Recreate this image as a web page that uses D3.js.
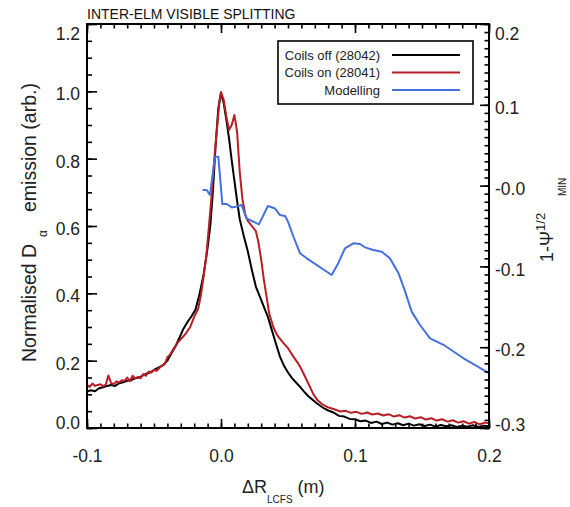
<!DOCTYPE html>
<html>
<head>
<meta charset="utf-8">
<script src="https://cdn.jsdelivr.net/npm/d3@7"></script>
<style>
  body { margin: 0; background: #fff; }
  svg { font-family: "Liberation Sans", Arial, Helvetica, sans-serif; }
</style>
</head>
<body>
<svg width="570" height="507"></svg>
<script>
// Coils off (28042): dR (m), normalised D-alpha
const offX = [-0.100,-0.097,-0.094,-0.091,-0.088,-0.085,-0.082,-0.079,-0.076,-0.073,-0.070,-0.067,-0.064,-0.061,-0.058,-0.055,-0.052,-0.049,-0.046,-0.043,-0.040,-0.037,-0.034,-0.031,-0.028,-0.025,-0.022,-0.019,-0.016,-0.013,-0.010,-0.008,-0.006,-0.004,-0.002,0.000,0.002,0.004,0.006,0.008,0.010,0.012,0.014,0.017,0.020,0.023,0.026,0.029,0.032,0.035,0.038,0.041,0.044,0.047,0.050,0.053,0.056,0.059,0.062,0.065,0.068,0.071,0.074,0.077,0.080,0.084,0.088,0.092,0.096,0.100,0.104,0.108,0.112,0.116,0.120,0.124,0.128,0.132,0.136,0.140,0.144,0.148,0.152,0.156,0.160,0.164,0.168,0.172,0.176,0.180,0.184,0.188,0.192,0.196,0.200];
const offY = [0.108,0.112,0.109,0.118,0.121,0.125,0.128,0.125,0.133,0.136,0.140,0.142,0.148,0.150,0.157,0.162,0.167,0.175,0.181,0.187,0.200,0.222,0.242,0.268,0.295,0.315,0.332,0.352,0.398,0.455,0.535,0.600,0.706,0.840,0.950,0.995,0.965,0.915,0.860,0.795,0.735,0.675,0.620,0.570,0.525,0.470,0.420,0.390,0.360,0.330,0.290,0.250,0.212,0.185,0.165,0.148,0.135,0.122,0.108,0.095,0.085,0.075,0.066,0.058,0.052,0.046,0.036,0.034,0.027,0.026,0.020,0.022,0.015,0.019,0.012,0.016,0.010,0.014,0.008,0.013,0.007,0.011,0.006,0.010,0.004,0.009,0.005,0.008,0.003,0.007,0.004,0.008,0.003,0.007,0.005];

// Coils on (28041)
const onX = [-0.100,-0.098,-0.096,-0.094,-0.092,-0.090,-0.088,-0.086,-0.084,-0.082,-0.080,-0.078,-0.076,-0.074,-0.072,-0.070,-0.068,-0.066,-0.064,-0.062,-0.060,-0.058,-0.056,-0.054,-0.052,-0.050,-0.048,-0.046,-0.044,-0.042,-0.040,-0.038,-0.035,-0.032,-0.029,-0.026,-0.023,-0.020,-0.017,-0.015,-0.013,-0.011,-0.009,-0.007,-0.005,-0.003,-0.001,0.000,0.002,0.004,0.006,0.008,0.010,0.012,0.014,0.016,0.018,0.020,0.023,0.026,0.028,0.030,0.032,0.034,0.036,0.039,0.042,0.046,0.050,0.054,0.057,0.060,0.063,0.066,0.069,0.072,0.075,0.078,0.081,0.085,0.089,0.093,0.097,0.101,0.105,0.109,0.113,0.117,0.121,0.125,0.129,0.133,0.137,0.141,0.145,0.149,0.153,0.157,0.161,0.165,0.169,0.173,0.177,0.181,0.185,0.189,0.193,0.197,0.200];
const onY = [0.128,0.122,0.132,0.125,0.128,0.130,0.124,0.129,0.156,0.133,0.131,0.138,0.135,0.142,0.140,0.150,0.139,0.155,0.147,0.152,0.148,0.160,0.155,0.168,0.165,0.172,0.170,0.178,0.186,0.190,0.210,0.218,0.238,0.255,0.268,0.282,0.300,0.330,0.355,0.395,0.450,0.510,0.600,0.690,0.800,0.890,0.975,0.998,0.975,0.925,0.885,0.900,0.930,0.880,0.760,0.680,0.635,0.615,0.600,0.585,0.550,0.500,0.440,0.390,0.340,0.300,0.275,0.255,0.237,0.212,0.195,0.175,0.150,0.125,0.100,0.083,0.072,0.065,0.060,0.055,0.049,0.051,0.045,0.048,0.042,0.046,0.040,0.043,0.037,0.041,0.034,0.038,0.031,0.035,0.028,0.032,0.025,0.029,0.022,0.026,0.019,0.023,0.016,0.020,0.013,0.018,0.011,0.016,0.014];

// Modelling, right axis 1-psi^1/2 min
const modX = [-0.0137,-0.0107,-0.0082,-0.0045,-0.0020,0.0010,0.0043,0.0080,0.0117,0.0154,0.0190,0.0283,0.0350,0.0400,0.0440,0.0478,0.0500,0.0540,0.0590,0.0640,0.0826,0.0875,0.0925,0.0988,0.1037,0.1075,0.1137,0.1200,0.1260,0.1325,0.1370,0.1423,0.1485,0.1560,0.1660,0.1810,0.2000];
const modY = [-0.0054,-0.0054,-0.0116,0.0358,0.0358,-0.0228,-0.0228,-0.0270,-0.0260,-0.0240,-0.0405,-0.0480,-0.0253,-0.0280,-0.0364,-0.0376,-0.0446,-0.0630,-0.0838,-0.0900,-0.1106,-0.0960,-0.0776,-0.0714,-0.0723,-0.0764,-0.0797,-0.0818,-0.0900,-0.1086,-0.1290,-0.1560,-0.1725,-0.1890,-0.1970,-0.2137,-0.2320];

const xMajor = [-0.1, 0.0, 0.1, 0.2];
const yMajor = [0.0, 0.2, 0.4, 0.6, 0.8, 1.0, 1.2];
const rMajor = [-0.3, -0.2, -0.1, 0.0, 0.1, 0.2];
const rLabels = ["-0.3", "-0.2", "-0.1", "-0.0", "0.1", "0.2"];

const series = [
  { name: "Coils off (28042)", xs: offX, ys: offY, color: "#000000", axis: "left" },
  { name: "Coils on (28041)", xs: onX, ys: onY, color: "#b81e24", axis: "left" },
  { name: "Modelling", xs: modX, ys: modY, color: "#4470e0", axis: "right" }
];

const svg = d3.select("svg");
const L = 87, R = 489, T = 24, B = 428;

const x = d3.scaleLinear().domain([-0.1, 0.2]).range([L, R]);
const y = d3.scaleLinear().domain([0, 1.2]).range([B, T]);
const yR = d3.scaleLinear().domain([-0.3, 0.2]).range([B, T]);

const fmt = (d) => d.toFixed(1);
const range = (a, b, s) => d3.range(Math.round((b - a) / s) + 1).map((i) => +(a + i * s).toFixed(4));

// clip
svg.append("clipPath").attr("id", "clip")
  .append("rect").attr("x", L).attr("y", T).attr("width", R - L).attr("height", B - T);

// data lines
const plot = svg.append("g").attr("clip-path", "url(#clip)");
series.forEach((s) => {
  const sc = s.axis === "left" ? y : yR;
  const line = d3.line().x((d, i) => x(s.xs[i])).y((d, i) => sc(s.ys[i]));
  plot.append("path")
    .attr("d", line(s.xs))
    .attr("fill", "none")
    .attr("stroke", s.color)
    .attr("stroke-width", 2)
    .attr("stroke-linejoin", "round");
});

// axes
function styleAxis(g) {
  g.select(".domain").remove();
  g.selectAll(".tick line").attr("stroke", "#000").attr("stroke-width", 1.6);
  g.selectAll("text").attr("fill", "#222").attr("font-size", "17.5px");
}

svg.append("g").attr("transform", `translate(0,${B})`)
  .call(d3.axisBottom(x).tickValues(range(-0.1, 0.2, 0.01)).tickSize(-4.5).tickFormat(""))
  .call(styleAxis);
svg.append("g").attr("transform", `translate(0,${B})`)
  .call(d3.axisBottom(x).tickValues(xMajor).tickSize(-9).tickPadding(22).tickFormat(fmt))
  .call(styleAxis);
svg.append("g").attr("transform", `translate(0,${T})`)
  .call(d3.axisTop(x).tickValues(range(-0.1, 0.2, 0.01)).tickSize(-4.5).tickFormat(""))
  .call(styleAxis);
svg.append("g").attr("transform", `translate(0,${T})`)
  .call(d3.axisTop(x).tickValues(xMajor).tickSize(-9).tickFormat(""))
  .call(styleAxis);

svg.append("g").attr("transform", `translate(${L},0)`)
  .call(d3.axisLeft(y).tickValues(range(0, 1.2, 0.05)).tickSize(-5).tickFormat(""))
  .call(styleAxis);
const yAx = svg.append("g").attr("transform", `translate(${L},0)`)
  .call(d3.axisLeft(y).tickValues(yMajor).tickSize(-10).tickPadding(7).tickFormat(fmt))
  .call(styleAxis);

svg.append("g").attr("transform", `translate(${R},0)`)
  .call(d3.axisRight(yR).tickValues(range(-0.3, 0.2, 0.01)).tickSize(-4.5).tickFormat(""))
  .call(styleAxis);
const rAx = svg.append("g").attr("transform", `translate(${R},0)`)
  .call(d3.axisRight(yR).tickValues(rMajor).tickSize(-9).tickPadding(6)
    .tickFormat((d, i) => rLabels[i]))
  .call(styleAxis);

// end labels sit inside the frame, like the original
yAx.selectAll(".tick text").attr("y", (d) => (d === 1.2 ? 10 : d === 0 ? -5 : 3));
rAx.selectAll(".tick text").attr("y", (d) => (d === 0.2 ? 10 : d === -0.3 ? -3 : 3));

// frame
svg.append("rect")
  .attr("x", L).attr("y", T).attr("width", R - L).attr("height", B - T)
  .attr("fill", "none").attr("stroke", "#000").attr("stroke-width", 2);

// title
svg.append("text").attr("x", L).attr("y", 19)
  .attr("font-size", "14px").attr("fill", "#111")
  .text("INTER-ELM VISIBLE SPLITTING");

// x label
const xl = svg.append("text").attr("x", 242).attr("y", 493).attr("font-size", "18px").attr("fill", "#222");
xl.append("tspan").text("ΔR");
xl.append("tspan").attr("font-size", "10px").attr("dy", 10).text("LCFS");
xl.append("tspan").attr("dy", -10).text(" (m)");

// left y label
const yl = svg.append("text")
  .attr("transform", "translate(36,0) rotate(-90)")
  .attr("font-size", "19.5px").attr("fill", "#222");
yl.append("tspan").attr("x", -362).attr("y", 0).text("Normalised D");
yl.append("tspan").attr("x", -237).attr("y", 11).attr("font-size", "12px").text("α");
yl.append("tspan").attr("x", -212).attr("y", 0).text("emission (arb.)");

// right y label
const rl = svg.append("text")
  .attr("transform", "translate(553,0) rotate(-90)")
  .attr("font-size", "18px").attr("fill", "#222");
rl.append("tspan").attr("x", -262).attr("y", 0).text("1-Ψ");
rl.append("tspan").attr("font-size", "13px").attr("y", -8).text("1/2");
rl.append("tspan").attr("font-size", "10px").attr("x", -196).attr("y", 13).text("MIN");

// legend
const lg = svg.append("g");
lg.append("rect").attr("x", 278).attr("y", 41).attr("width", 195).attr("height", 63)
  .attr("fill", "#fff").attr("stroke", "#000").attr("stroke-width", 1.6);
series.forEach((s, i) => {
  const cy = 55 + i * 17.5;
  lg.append("text").attr("x", 380).attr("y", cy + 4.5)
    .attr("text-anchor", "end").attr("font-size", "13px").attr("fill", "#222")
    .text(s.name);
  lg.append("line").attr("x1", 392).attr("x2", 460).attr("y1", cy).attr("y2", cy)
    .attr("stroke", s.color).attr("stroke-width", 2);
});
</script>
</body>
</html>
